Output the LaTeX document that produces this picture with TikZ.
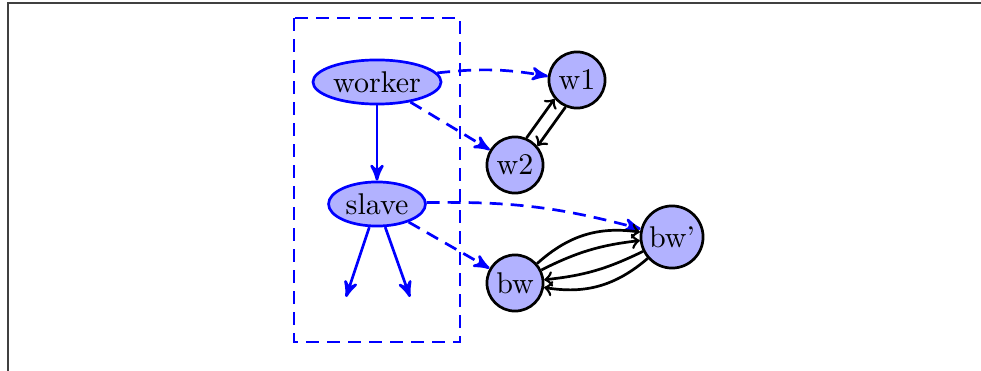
\documentclass[tikz,border=0pt]{standalone}
\usetikzlibrary{arrows,shapes.geometric}
\begin{document}
\begin{tikzpicture}[x=0.3333pt,y=-0.3333pt,
  framel/.style={draw=black!75, line width=0.5pt},
  elnode/.style={ellipse, draw=blue, fill=blue!30, line width=0.9pt, inner sep=0pt, minimum height=14.7pt},
  cnode/.style={circle, draw=black, fill=blue!30, line width=0.9pt, inner sep=0pt, minimum size=18.7pt},
  bluearr/.style={->, >=stealth', draw=blue, line width=0.9pt},
  bluedash/.style={bluearr, dash pattern=on 4.3pt off 2.7pt},
  blackarr/.style={->, >=to, line width=0.9pt},
  boxd/.style={draw=blue, line width=0.9pt, dash pattern=on 4.3pt off 2.7pt}]
\useasboundingbox (0,0) rectangle (981,371);
\draw[framel] (8,371) -- (8,3) -- (981,3);
\draw[boxd] (294,18) rectangle (460,342);
\node[elnode, minimum width=42.7pt] (worker) at (377,82) {worker};
\node[elnode, minimum width=32.3pt] (slave) at (377,204) {slave};
\node[cnode] (w1) at (577,80) {w1};
\node[cnode] (w2) at (515,165) {w2};
\node[cnode] (bw) at (515,283) {bw};
\node[cnode, minimum size=20.7pt] (bwp) at (672,237) {bw'};
\coordinate (e1) at (346,297);
\coordinate (e2) at (410,297);
\draw[bluearr] (worker) -- (slave);
\draw[bluearr] (slave) -- (e1);
\draw[bluearr] (slave) -- (e2);
\draw[bluedash] (worker) to[bend left=8] (w1);
\draw[bluedash] (worker) -- (w2);
\draw[bluedash] (slave) to[bend left=8] (bwp);
\draw[bluedash] (slave) -- (bw);
\draw[blackarr] (w2.67) -- (w1.220);
\draw[blackarr] (w1.247) -- (w2.40);
\draw[blackarr] (bw) to[bend left=25] (bwp);
\draw[blackarr] (bw) to[bend left=10] (bwp);
\draw[blackarr] (bwp) to[bend left=10] (bw);
\draw[blackarr] (bwp) to[bend left=25] (bw);
\end{tikzpicture}
\end{document}
